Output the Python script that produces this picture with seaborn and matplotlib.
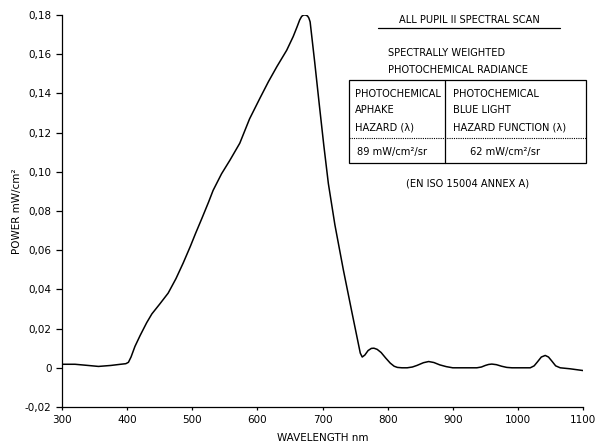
import numpy as np
import pandas as pd
import matplotlib
matplotlib.use("Agg")
import matplotlib.pyplot as plt
from matplotlib.patches import Rectangle
from matplotlib.lines import Line2D
from matplotlib.ticker import FuncFormatter
import seaborn as sns

# spectral scan
wavelength = [300, 320, 340, 356, 375, 390, 398, 402, 406, 412, 420, 430, 438,
              450, 463, 475, 486, 497, 505, 515, 525, 532, 545, 558, 573, 588,
              604, 617, 630, 645, 655, 661, 665, 668, 671, 674, 677, 679, 681,
              688, 695, 702, 709, 719, 732, 745, 754, 758, 761, 765, 770, 775,
              779, 784, 790, 797, 804, 810, 815, 822, 830, 838, 845, 855, 863,
              871, 880, 890, 900, 920, 937, 944, 950, 955, 960, 967, 975, 983,
              991, 1019, 1025, 1030, 1036, 1042, 1047, 1052, 1058, 1065, 1080,
              1100]
power = [0.0018, 0.0018, 0.0012, 0.0007, 0.0012, 0.0018, 0.0021, 0.0028,
         0.0055, 0.0109, 0.0165, 0.0230, 0.0275, 0.0325, 0.0381, 0.0455,
         0.0534, 0.0619, 0.0685, 0.0764, 0.0845, 0.0905, 0.0990, 0.1060,
         0.1146, 0.1270, 0.1376, 0.1460, 0.1537, 0.1620, 0.1690, 0.1740,
         0.1775, 0.1793, 0.1800, 0.1800, 0.1795, 0.1785, 0.1765, 0.1560,
         0.1345, 0.1135, 0.0940, 0.0730, 0.0500, 0.0286, 0.0140, 0.0075,
         0.0055, 0.0065, 0.0088, 0.0099, 0.0100, 0.0094, 0.0078, 0.0050,
         0.0024, 0.0008, 0.0002, 0.0000, 0.0000, 0.0004, 0.0012, 0.0026,
         0.0032, 0.0027, 0.0015, 0.0006, 0.0000, 0.0000, 0.0000, 0.0004,
         0.0012, 0.0017, 0.0019, 0.0016, 0.0008, 0.0002, 0.0000, 0.0000,
         0.0010, 0.0030, 0.0055, 0.0063, 0.0055, 0.0035, 0.0010, 0.0000,
         -0.0005, -0.0014]

x_ticks = [300, 400, 500, 600, 700, 800, 900, 1000, 1100]
y_ticks = [-0.02, 0, 0.02, 0.04, 0.06, 0.08, 0.10, 0.12, 0.14, 0.16, 0.18]

title = "ALL PUPIL II SPECTRAL SCAN"
subtitle = ["SPECTRALLY WEIGHTED", "PHOTOCHEMICAL RADIANCE"]
col_left = ["PHOTOCHEMICAL", "APHAKE", "HAZARD (λ)"]
col_right = ["PHOTOCHEMICAL", "BLUE LIGHT", "HAZARD FUNCTION (λ)"]
val_left = "89 mW/cm²/sr"
val_right = "62 mW/cm²/sr"
footnote = "(EN ISO 15004 ANNEX A)"

df = pd.DataFrame({"wavelength": wavelength, "power": power})

sns.set_style("ticks")
plt.rcParams["font.family"] = ["DejaVu Sans"]
plt.rcParams["text.color"] = "black"
plt.rcParams["axes.labelcolor"] = "black"

W, H = 596, 448
fig = plt.figure(figsize=(W / 100, H / 100), dpi=100)
ax = fig.add_axes([62 / W, 1 - 407 / H, (583 - 62) / W, (407 - 15) / H])

sns.lineplot(data=df, x="wavelength", y="power", ax=ax, color="black",
             linewidth=1.1, sort=False)

ax.set_xlim(300, 1100)
ax.set_ylim(-0.02, 0.18)
ax.set_xticks(x_ticks)
ax.set_yticks(y_ticks)


def comma_fmt(v, pos):
    if abs(v) < 1e-9:
        return "0"
    return f"{v:.2f}".replace(".", ",")


ax.yaxis.set_major_formatter(FuncFormatter(comma_fmt))
ax.tick_params(axis="both", labelsize=7.5, length=4, width=0.9, color="black",
               labelcolor="black")
ax.tick_params(axis="x", length=2)
ax.set_xlabel("WAVELENGTH nm", fontsize=7.5, labelpad=6)
ax.set_ylabel("POWER mW/cm²", fontsize=7.5, labelpad=2)
sns.despine(ax=ax)
for s in ["left", "bottom"]:
    ax.spines[s].set_linewidth(0.9)
    ax.spines[s].set_color("black")


def fx(px):
    return px / W


def fy(py):
    return 1 - py / H


fs = 7.1
fig.text(fx(469), fy(20), title, ha="center", va="center", fontsize=fs)
fig.add_artist(Line2D([fx(378), fx(560)], [fy(28), fy(28)], color="black",
                      linewidth=0.9))
fig.text(fx(388), fy(52.7), subtitle[0], ha="left", va="center", fontsize=fs)
fig.text(fx(388), fy(70), subtitle[1], ha="left", va="center", fontsize=fs)

fig.add_artist(Rectangle((fx(349), fy(162.7)), fx(586) - fx(349),
                         fy(80) - fy(162.7), transform=fig.transFigure,
                         fill=False, edgecolor="black", linewidth=0.9))
fig.add_artist(Line2D([fx(445.3), fx(445.3)], [fy(80), fy(162.7)],
                      color="black", linewidth=0.9))
fig.add_artist(Line2D([fx(349), fx(586)], [fy(138.3), fy(138.3)],
                      color="black", linewidth=0.8, linestyle=(0, (1, 1))))

for i, yy in enumerate([94.3, 110, 127.7]):
    fig.text(fx(355), fy(yy), col_left[i], ha="left", va="center", fontsize=fs)
    fig.text(fx(453.3), fy(yy), col_right[i], ha="left", va="center",
             fontsize=fs)
fig.text(fx(356.7), fy(152.3), val_left, ha="left", va="center", fontsize=fs)
fig.text(fx(470), fy(152.3), val_right, ha="left", va="center", fontsize=fs)
fig.text(fx(468), fy(183.3), footnote, ha="center", va="center", fontsize=fs)

fig.savefig("out.png", dpi=100)
